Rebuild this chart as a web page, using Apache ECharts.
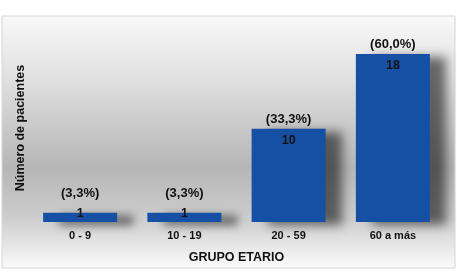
<!DOCTYPE html>
<html>
<head>
<meta charset="utf-8">
<script src="https://cdn.jsdelivr.net/npm/echarts@6/dist/echarts.min.js"></script>
<style>
  html, body { margin: 0; padding: 0; background: #fff; }
  #chart { width: 457px; height: 272px; }
</style>
</head>
<body>
<div id="chart"></div>
<script>
// data
const categories = ['0 - 9', '10 - 19', '20 - 59', '60 a más'];
const patients = [1, 1, 10, 18];
const percents = ['(3,3%)', '(3,3%)', '(33,3%)', '(60,0%)'];

const font = '"Liberation Sans", Arial, sans-serif';
const barBlue = '#1650a5';

const chart = echarts.init(document.getElementById('chart'));

// small bars can't hold the value inside, so it sits on the edge
const valueItems = patients.map(v => ({
    value: v,
    label: v < 3
        ? { position: 'top', distance: -7 }
        : { position: 'insideTop', distance: 5 }
}));

const pctItems = patients.map(v => ({
    value: v,
    label: { distance: v < 3 ? 13 : 3 }
}));

chart.setOption({
    animation: false,
    backgroundColor: '#ffffff',
    graphic: [{
        type: 'rect',
        z: -10,
        silent: true,
        shape: { x: 2, y: 16, width: 453, height: 252 },
        style: {
            fill: new echarts.graphic.LinearGradient(0, 0, 0, 1, [
                { offset: 0, color: '#f9f9f9' },
                { offset: 0.25, color: '#e0e0e0' },
                { offset: 0.6, color: '#b6b6b6' },
                { offset: 0.8, color: '#cdcdcd' },
                { offset: 1, color: '#fbfbfb' }
            ]),
            stroke: '#d6d6d6',
            lineWidth: 1
        }
    }],
    grid: { left: 28, right: 12, top: 54, bottom: 50 },
    xAxis: {
        type: 'category',
        data: categories,
        name: 'GRUPO ETARIO',
        nameLocation: 'middle',
        nameGap: 29,
        nameTextStyle: { fontFamily: font, fontWeight: 'bold', fontSize: 12.5, color: '#111' },
        axisLine: { show: false },
        axisTick: { show: false },
        axisLabel: { fontFamily: font, fontWeight: 'bold', fontSize: 11, color: '#111', margin: 8 }
    },
    yAxis: {
        type: 'value',
        min: 0,
        max: 18,
        name: 'Número de pacientes',
        nameLocation: 'middle',
        nameGap: 1,
        nameRotate: 90,
        nameTextStyle: {
            fontFamily: font, fontWeight: 'bold', fontSize: 12.5, color: '#111',
            padding: [0, 0, 0, 20]
        },
        axisLine: { show: false },
        axisTick: { show: false },
        axisLabel: { show: false },
        splitLine: { show: false }
    },
    series: [
        {
            type: 'bar',
            data: valueItems,
            barWidth: '71%',
            itemStyle: {
                color: barBlue,
                shadowColor: 'rgba(0,0,0,0.55)',
                shadowBlur: 10,
                shadowOffsetX: 16,
                shadowOffsetY: 3
            },
            label: {
                show: true,
                fontFamily: font,
                fontWeight: 'bold',
                fontSize: 12.5,
                color: '#111'
            }
        },
        {
            type: 'bar',
            data: pctItems,
            barWidth: '71%',
            barGap: '-100%',
            itemStyle: { color: 'rgba(0,0,0,0)' },
            label: {
                show: true,
                position: 'top',
                fontFamily: font,
                fontWeight: 'bold',
                fontSize: 13,
                color: '#111',
                formatter: p => percents[p.dataIndex]
            }
        }
    ]
});
</script>
</body>
</html>
